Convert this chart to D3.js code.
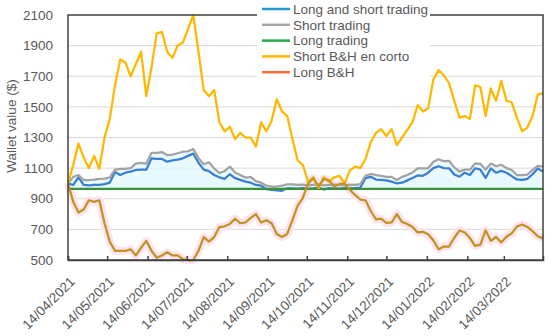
<!DOCTYPE html>
<html>
<head>
<meta charset="utf-8">
<script src="https://d3js.org/d3.v7.min.js"></script>
<style>
body { margin: 0; background: #fff; }
text { font-family: "Liberation Sans", Arial, sans-serif; fill: #595959; }
</style>
</head>
<body>
<svg id="svg" width="550" height="336"></svg>
<script>
// one point every 4 days, starting 14/04/2021
var startDate = "14/04/2021";
var stepDays = 4;

var seriesNames = ["Long and short trading", "Short trading", "Long trading", "Short B&H en corto", "Long B&H"];

var longShortTrading = [
  1000, 990, 1040, 990, 988, 990, 990, 995, 1005, 1075,
  1055, 1070, 1077, 1088, 1090, 1090, 1164, 1160, 1160, 1142,
  1150, 1155, 1164, 1180, 1195, 1135, 1090, 1080, 1055, 1040,
  1030, 1060, 1035, 1023, 1012, 1005, 990, 985, 962, 958,
  955, 952, 968, 968, 966, 970, 965, 968, 972, 960,
  970, 968, 966, 970, 968, 970, 972, 1035, 1043, 1025,
  1023, 1020, 1012, 1000, 1005, 1020, 1035, 1052, 1050, 1070,
  1100, 1112, 1100, 1099, 1058, 1044, 1070, 1055, 1099, 1090,
  1036, 1098, 1070, 1082, 1070, 1048, 1026, 1023, 1030, 1060,
  1098, 1077
];
var shortTrading = [
  1000, 1043, 1055, 1022, 1022, 1025, 1030, 1032, 1040, 1090,
  1095, 1095, 1100, 1130, 1135, 1130, 1200, 1200, 1205, 1185,
  1188, 1197, 1207, 1210, 1225, 1165, 1125, 1138, 1098, 1068,
  1080, 1110, 1072, 1055, 1038, 1042, 1015, 1005, 985, 980,
  980, 985, 994, 994, 990, 992, 988, 990, 995, 988,
  990, 992, 990, 988, 992, 990, 995, 1050, 1062, 1055,
  1050, 1043, 1043, 1023, 1043, 1055, 1072, 1099, 1099, 1099,
  1142, 1158, 1145, 1148, 1105, 1078, 1090, 1090, 1131, 1128,
  1090, 1130, 1112, 1122, 1100, 1088, 1055, 1055, 1058, 1088,
  1115, 1110
];
var longTrading = [
  965, 965, 965, 965, 965, 965, 965, 965, 965, 965,
  965, 965, 965, 965, 965, 965, 965, 965, 965, 965,
  965, 965, 965, 965, 965, 965, 965, 965, 965, 965,
  965, 965, 965, 965, 965, 965, 965, 965, 965, 965,
  965, 965, 965, 965, 965, 965, 965, 965, 965, 965,
  965, 965, 965, 965, 965, 965, 965, 965, 965, 965,
  965, 965, 965, 965, 965, 965, 965, 965, 965, 965,
  965, 965, 965, 965, 965, 965, 965, 965, 965, 965,
  965, 965, 965, 965, 965, 965, 965, 965, 965, 965,
  965, 965
];
var shortBH = [
  1000, 1120, 1260, 1170, 1100, 1180, 1095, 1300, 1420, 1640,
  1810, 1790, 1700, 1780, 1860, 1570, 1760, 1980, 1990, 1860,
  1820, 1900, 1920, 2010, 2100, 1860, 1610, 1570, 1610, 1400,
  1340, 1370, 1290, 1330, 1300, 1300, 1240, 1400, 1340, 1410,
  1550, 1470, 1440, 1290, 1150, 1120, 1010, 1040, 970, 1040,
  1010, 1040, 1050, 1000, 1085, 1110, 1100, 1160, 1270, 1330,
  1355, 1310, 1355, 1250, 1300, 1350, 1400, 1512, 1470, 1490,
  1680, 1740, 1705, 1655, 1540, 1430, 1440, 1420, 1640, 1630,
  1440, 1620, 1540, 1670, 1540, 1530, 1430, 1340, 1365, 1440,
  1580, 1590
];
var longBH = [
  1000, 880, 810, 830, 890, 880, 890, 740, 620, 560,
  560, 560, 570, 530, 580, 625, 560, 515, 530, 550,
  530, 530, 505, 500, 500, 560, 650, 620, 650, 715,
  720, 735, 770, 740, 745, 775, 800, 745, 760, 740,
  670, 650, 670, 760, 855, 905, 1000, 1034, 980, 1030,
  1020, 980, 995, 1000, 957, 925, 895, 890, 820, 765,
  770, 742, 745, 800, 748, 735, 715, 680, 684, 668,
  628, 570, 588, 588, 645, 694, 680, 643, 592, 600,
  694, 625, 650, 615, 652, 674, 718, 732, 716, 688,
  655, 640
];

var yTicks = [500, 700, 900, 1100, 1300, 1500, 1700, 1900, 2100];
var xTickLabels = ["14/04/2021", "14/05/2021", "14/06/2021", "14/07/2021", "14/08/2021", "14/09/2021",
  "14/10/2021", "14/11/2021", "14/12/2021", "14/01/2022", "14/02/2022", "14/03/2022"];

var svg = d3.select("svg");
var plotLeft = 68, plotTop = 15, plotRight = 543, plotBottom = 260;

var parseDate = d3.utcParse("%d/%m/%Y");
var start = parseDate(startDate);
var dates = longTrading.map(function(d, i) { return d3.utcDay.offset(start, i * stepDays); });

var x = d3.scaleUtc().domain([start, dates[dates.length - 1]]).range([plotLeft, plotRight]);
var y = d3.scaleLinear().domain([500, 2100]).range([plotBottom, plotTop]);

var series = [
  {values: longShortTrading, color: "#3a7fd0", legend: "#1f9bd7"},
  {values: shortTrading, color: "#a3a3a3", legend: "#a5a5a5"},
  {values: longTrading, color: "#3a9140", legend: "#22ad4b"},
  {values: shortBH, color: "#ffb800", legend: "#ffb900"},
  {values: longBH, color: "#c0941f", legend: "#ff6d3a"}
];

// gridlines
svg.append("g").selectAll("line")
  .data(yTicks.slice(1, -1))
  .enter().append("line")
  .attr("x1", plotLeft).attr("x2", plotRight)
  .attr("y1", function(d) { return y(d); })
  .attr("y2", function(d) { return y(d); })
  .attr("stroke", "#d9d9d9").attr("stroke-width", 1);

// light cyan band between long trading and short trading
var band = d3.area()
  .x(function(d, i) { return x(dates[i]); })
  .y0(function(d, i) { return y(longTrading[i]); })
  .y1(function(d) { return y(d); });
svg.append("path").attr("d", band(shortTrading))
  .attr("fill", "#e2f9fc").attr("opacity", 0.8);

var line = d3.line()
  .x(function(d, i) { return x(dates[i]); })
  .y(function(d) { return y(d); });

// pink halo under long B&H
svg.append("path").attr("d", line(longBH))
  .attr("fill", "none").attr("stroke", "#fde3f0").attr("stroke-width", 8)
  .attr("stroke-linejoin", "round");

series.forEach(function(s) {
  svg.append("path").attr("d", line(s.values))
    .attr("fill", "none")
    .attr("stroke", s.color)
    .attr("stroke-width", 2.25)
    .attr("stroke-linejoin", "round");
});

// frame
svg.append("rect")
  .attr("x", plotLeft).attr("y", plotTop)
  .attr("width", plotRight - plotLeft).attr("height", plotBottom - plotTop)
  .attr("fill", "none").attr("stroke", "#404040").attr("stroke-width", 1.5);

// y tick labels
svg.append("g").selectAll("text")
  .data(yTicks)
  .enter().append("text")
  .attr("x", 53).attr("y", function(d) { return y(d); })
  .attr("dy", "0.35em")
  .attr("text-anchor", "end")
  .style("font-size", "13.5px")
  .text(function(d) { return d; });

// x axis ticks (inside) and rotated labels
var xAxis = d3.axisBottom(x)
  .tickValues(xTickLabels.map(parseDate))
  .tickSize(-4)
  .tickFormat(d3.utcFormat("%d/%m/%Y"));
var gx = svg.append("g").attr("transform", "translate(0," + plotBottom + ")").call(xAxis);
gx.select(".domain").attr("stroke", "#404040").attr("stroke-width", 1.5);
gx.selectAll(".tick line").attr("stroke", "#404040").attr("stroke-width", 1.5);
gx.selectAll(".tick text")
  .attr("x", 0).attr("y", 0).attr("dy", "0.35em")
  .attr("transform", "translate(4,19) rotate(-45)")
  .attr("text-anchor", "end")
  .attr("fill", "#595959")
  .style("font-family", "'Liberation Sans', Arial, sans-serif")
  .style("font-size", "13.5px");

// y axis title
svg.append("text")
  .attr("transform", "translate(11,126) rotate(-90)")
  .attr("dy", "0.35em")
  .attr("text-anchor", "middle")
  .style("font-size", "13.5px")
  .text("Wallet value ($)");

// legend
var legend = svg.append("g");
legend.append("rect").attr("x", 257).attr("y", 0).attr("width", 173).attr("height", 82).attr("fill", "#fff");
seriesNames.forEach(function(name, i) {
  var ly = 9 + i * 15.8;
  legend.append("line")
    .attr("x1", 262).attr("x2", 290).attr("y1", ly).attr("y2", ly)
    .attr("stroke", series[i].legend).attr("stroke-width", 2.5);
  legend.append("text")
    .attr("x", 293).attr("y", ly).attr("dy", "0.35em")
    .style("font-size", "13.5px")
    .text(name);
});
</script>
</body>
</html>
